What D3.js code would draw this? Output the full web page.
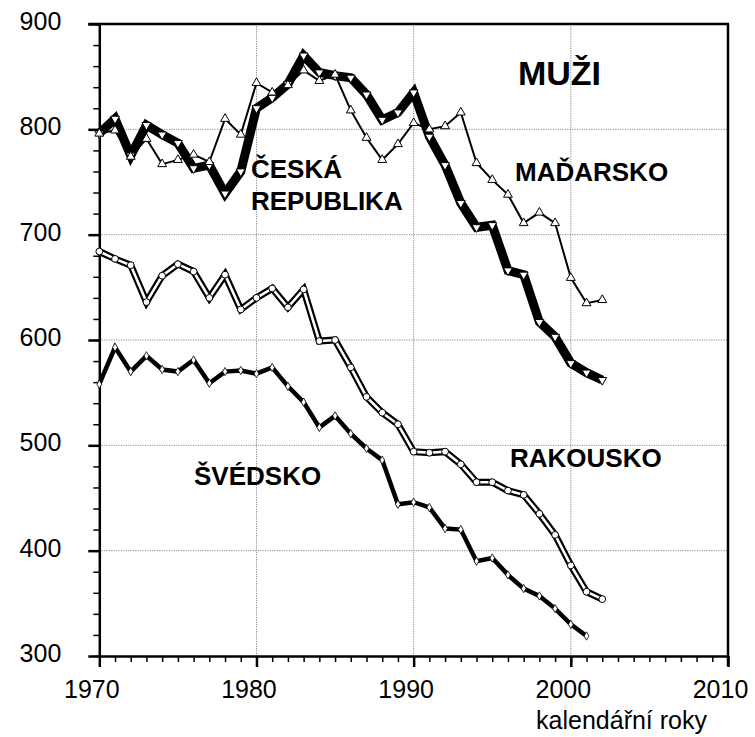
<!DOCTYPE html>
<html>
<head>
<meta charset="utf-8">
<script src="https://cdn.jsdelivr.net/npm/d3@7"></script>
<style>
  html, body { margin: 0; padding: 0; background: #fff; }
  svg { display: block; font-family: "Liberation Sans", Arial, sans-serif; }
</style>
</head>
<body>
<svg id="chart" width="755" height="737"></svg>
<script>
// Male mortality (standardised), calendar years
const years = d3.range(1970, 2003);

const czech = [796, 810, 775, 804, 795, 787, 763, 766, 739, 760,
               820, 830, 843, 870, 854, 851, 849, 833, 809, 816,
               835, 793, 766, 730, 707, 709, 666, 662, 617, 603,
               578, 569, 562];

const hungary = [796, 799, 774, 791, 767, 771, 776, 769, 810, 795,
                 844, 835, 842, 856, 846, 852, 818, 792, 771, 786,
                 806, 800, 803, 816, 768, 752, 738, 711, 721, 711,
                 659, 635, 638];

const austria = [684, 677, 671, 636, 661, 672, 665, 640, 662, 629,
                 640, 649, 631, 648, 599, 600, 574, 546, 531, 520,
                 494, 493, 494, 482, 465, 465, 457, 453, 435, 415,
                 386, 361, 354];

const sweden = [558, 593, 570, 585, 572, 570, 581, 559, 570, 571,
                568, 574, 556, 541, 517, 528, 511, 497, 486, 444,
                446, 441, 421, 420, 390, 393, 377, 364, 357, 345,
                330, 319];

const xTicks = [1970, 1980, 1990, 2000, 2010];
const yTicks = [300, 400, 500, 600, 700, 800, 900];

const svg = d3.select("#chart");
const x = d3.scaleLinear().domain([1970, 2010]).range([99.3, 728]);
const y = d3.scaleLinear().domain([300, 900]).range([656, 24]);

// dotted grid
const grid = svg.append("g").attr("stroke", "#8a8a8a").attr("stroke-width", 1)
  .attr("stroke-dasharray", "1.2,1.2");
grid.selectAll("line.v").data(xTicks.slice(1, -1)).join("line")
  .attr("x1", d => x(d)).attr("x2", d => x(d))
  .attr("y1", y(900)).attr("y2", y(300));
grid.selectAll("line.h").data(yTicks.slice(1, -1)).join("line")
  .attr("x1", x(1970)).attr("x2", x(2010))
  .attr("y1", d => y(d)).attr("y2", d => y(d));

// frame top and right
svg.append("line").attr("x1", x(1970) - 11).attr("x2", x(2010) + 1)
  .attr("y1", y(900)).attr("y2", y(900)).attr("stroke", "#000").attr("stroke-width", 2.5);
svg.append("line").attr("x1", x(2010)).attr("x2", x(2010))
  .attr("y1", y(900)).attr("y2", y(300) + 10).attr("stroke", "#000").attr("stroke-width", 2.5);

// axes: minor ticks
const xMinor = d3.axisBottom(x).tickValues(d3.range(1970, 2011)).tickSize(6).tickFormat("");
const yMinor = d3.axisLeft(y).tickValues(d3.range(300, 901, 20)).tickSize(6).tickFormat("");
const gxm = svg.append("g").attr("transform", `translate(0,${y(300)})`).call(xMinor);
const gym = svg.append("g").attr("transform", `translate(${x(1970)},0)`).call(yMinor);
[gxm, gym].forEach(g => {
  g.select(".domain").remove();
  g.selectAll("line").attr("stroke", "#000").attr("stroke-width", 1.5);
});

// axes: major ticks with labels
const xMajor = d3.axisBottom(x).tickValues(xTicks).tickSize(11).tickSizeOuter(0)
  .tickFormat(d3.format("d"));
const yMajor = d3.axisLeft(y).tickValues(yTicks).tickSize(11).tickSizeOuter(0)
  .tickFormat(d3.format("d"));
const gx = svg.append("g").attr("transform", `translate(0,${y(300)})`).call(xMajor);
const gy = svg.append("g").attr("transform", `translate(${x(1970)},0)`).call(yMajor);
[gx, gy].forEach(g => {
  g.select(".domain").attr("stroke", "#000").attr("stroke-width", 2.5);
  g.selectAll(".tick line").attr("stroke", "#000").attr("stroke-width", 2.5);
  g.selectAll(".tick text").attr("fill", "#000").attr("font-size", 25)
    .attr("font-family", "'Liberation Sans', Arial, sans-serif");
});
gx.selectAll(".tick text").attr("y", 0).attr("dy", 0).attr("dx", -8)
  .attr("transform", "translate(0,42)");
gy.selectAll(".tick text").attr("x", -38).attr("dy", "0.3em").attr("text-anchor", "end");
gy.selectAll(".tick text").attr("dx", 0).attr("transform", "translate(0,-2)");

svg.append("text").attr("x", 707).attr("y", 729).attr("text-anchor", "end")
  .attr("font-size", 25).text("kalendářní roky");

// series
const line = d3.line().x((d, i) => x(years[i])).y(d => y(d)).curve(d3.curveLinear);
const plot = svg.append("g");

// Sweden: solid line with diamonds
plot.append("path").datum(sweden).attr("d", line).attr("fill", "none")
  .attr("stroke", "#000").attr("stroke-width", 4.5).attr("stroke-linejoin", "miter");

// Austria: double line with circles
plot.append("path").datum(austria).attr("d", line).attr("fill", "none")
  .attr("stroke", "#000").attr("stroke-width", 7).attr("stroke-linejoin", "miter");
plot.append("path").datum(austria).attr("d", line).attr("fill", "none")
  .attr("stroke", "#fff").attr("stroke-width", 2.6).attr("stroke-linejoin", "miter");

// Czech Republic: heavy line
plot.append("path").datum(czech).attr("d", line).attr("fill", "none")
  .attr("stroke", "#000").attr("stroke-width", 9).attr("stroke-linejoin", "miter")
  .attr("stroke-miterlimit", 3);

// Hungary: thin line
plot.append("path").datum(hungary).attr("d", line).attr("fill", "none")
  .attr("stroke", "#000").attr("stroke-width", 2);

// markers
const diamond = d3.symbol().type(d3.symbolDiamond).size(20);
const tri = d3.symbol().type(d3.symbolTriangle).size(34);

plot.append("g").selectAll("path").data(sweden).join("path")
  .attr("d", diamond)
  .attr("transform", (d, i) => `translate(${x(years[i])},${y(d)})`)
  .attr("fill", "#fff").attr("stroke", "#000").attr("stroke-width", 0.8);

plot.append("g").selectAll("circle").data(austria).join("circle")
  .attr("cx", (d, i) => x(years[i])).attr("cy", d => y(d)).attr("r", 3.4)
  .attr("fill", "#fff").attr("stroke", "#000").attr("stroke-width", 1);

plot.append("g").selectAll("path").data(czech).join("path")
  .attr("d", tri)
  .attr("transform", (d, i) => `translate(${x(years[i])},${y(d)}) rotate(180)`)
  .attr("fill", "#fff").attr("stroke", "#000").attr("stroke-width", 1);

plot.append("g").selectAll("path").data(hungary).join("path")
  .attr("d", tri)
  .attr("transform", (d, i) => `translate(${x(years[i])},${y(d)})`)
  .attr("fill", "#fff").attr("stroke", "#000").attr("stroke-width", 1);

// series labels
const labels = [
  { t: "ČESKÁ", x: 251, y: 178 },
  { t: "REPUBLIKA", x: 251, y: 210 },
  { t: "MAĎARSKO", x: 515, y: 181 },
  { t: "RAKOUSKO", x: 510, y: 467 },
  { t: "ŠVÉDSKO", x: 194, y: 485 }
];
svg.append("g").selectAll("text").data(labels).join("text")
  .attr("x", d => d.x).attr("y", d => d.y)
  .attr("font-size", 26).attr("font-weight", "bold").text(d => d.t);

svg.append("text").attr("x", 601).attr("y", 85).attr("text-anchor", "end")
  .attr("font-size", 34).attr("font-weight", "bold").text("MUŽI");
</script>
</body>
</html>
